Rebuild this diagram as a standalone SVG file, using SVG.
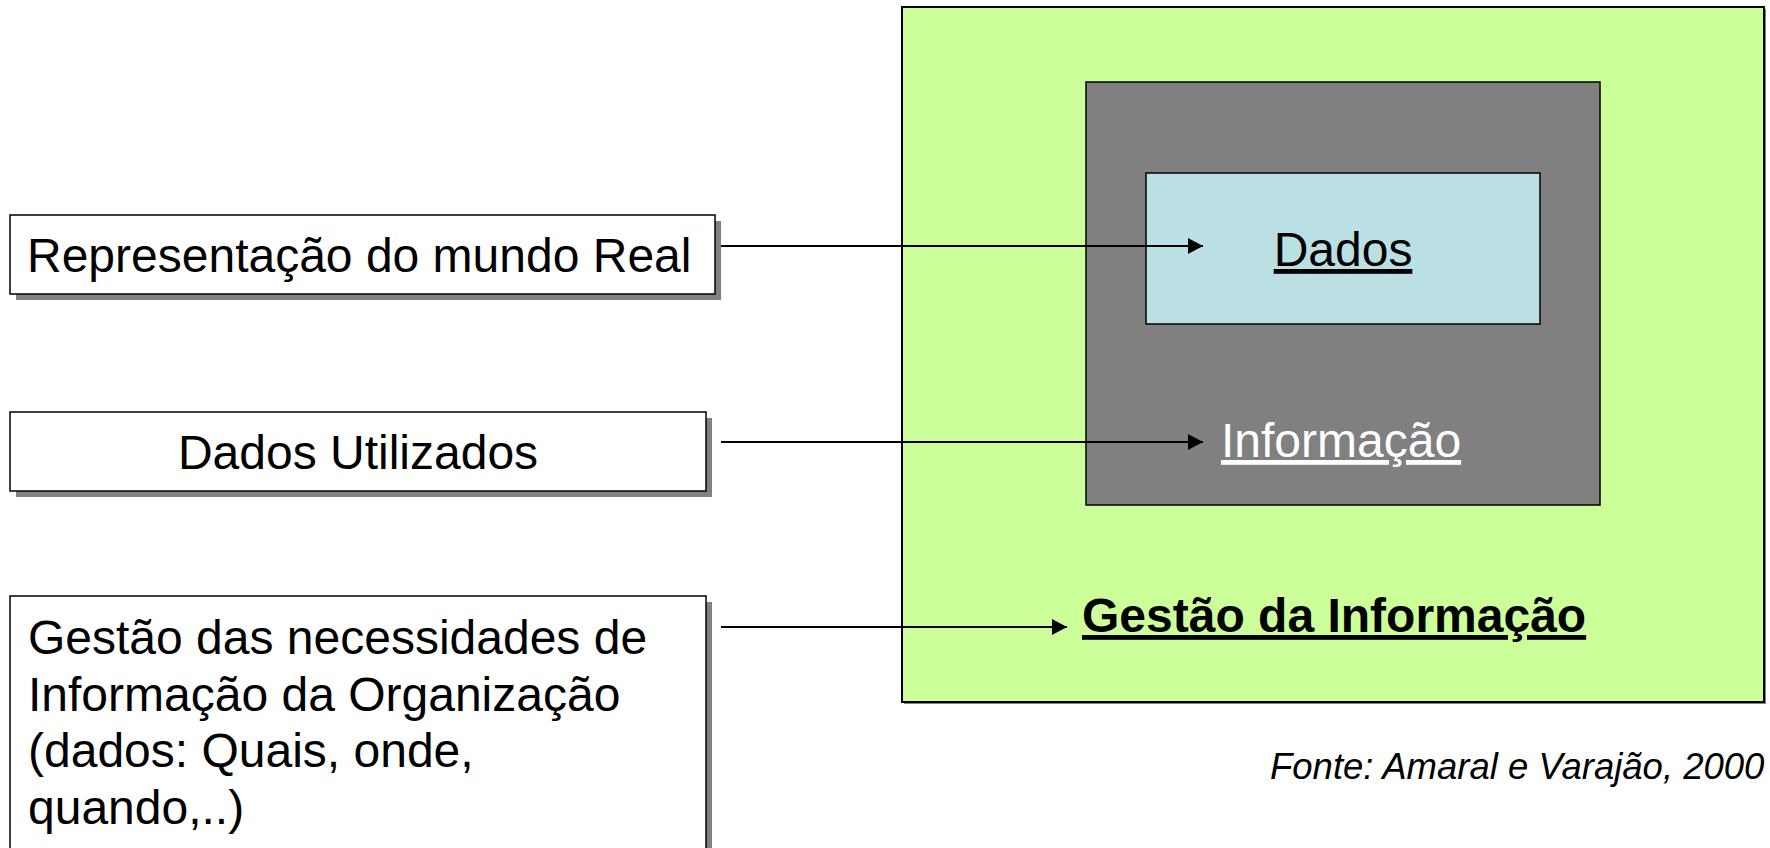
<svg xmlns="http://www.w3.org/2000/svg" width="1770" height="848" viewBox="0 0 1770 848">
<defs>
<style>
.t{font-family:"Liberation Sans",Arial,sans-serif;font-size:48px;fill:#000}
.box{fill:#fff;stroke:#000;stroke-width:1.5}
.sh{fill:#808080}
.conn{stroke:#000;stroke-width:2;fill:none;marker-end:url(#ah)}
</style>
<marker id="ah" markerUnits="userSpaceOnUse" markerWidth="16" markerHeight="16" refX="15" refY="8" orient="auto">
<path d="M0,0 L15,8 L0,16 z" fill="#000"/>
</marker>
</defs>
<rect width="1770" height="848" fill="#fff"/>
<g id="gestao-informacao">
<rect x="904" y="9" width="862" height="695" class="sh"/>
<rect x="902" y="7" width="862" height="695" fill="#ccff99" stroke="#000" stroke-width="2"/>
<text x="1082" y="632" class="t" font-weight="bold" text-decoration="underline">Gestão da Informação</text>
</g>
<g id="informacao">
<rect x="1086" y="82" width="514" height="423" fill="#808080" stroke="#000" stroke-width="1.5"/>
<text x="1221" y="457" class="t" style="fill:#fff" text-decoration="underline">Informação</text>
</g>
<g id="dados">
<rect x="1146" y="173" width="394" height="151" fill="#bbe0e3" stroke="#000" stroke-width="1.5"/>
<text x="1343" y="266" class="t" text-anchor="middle" text-decoration="underline">Dados</text>
</g>
<g id="representacao">
<rect x="16" y="221" width="705" height="79" class="sh"/>
<rect x="10" y="215" width="705" height="79" class="box"/>
<text x="27" y="272" class="t">Representação do mundo Real</text>
</g>
<g id="dados-utilizados">
<rect x="16" y="418" width="696" height="79" class="sh"/>
<rect x="10" y="412" width="696" height="79" class="box"/>
<text x="358" y="469" class="t" text-anchor="middle">Dados Utilizados</text>
</g>
<g id="gestao-necessidades">
<rect x="16" y="602" width="696" height="260" class="sh"/>
<rect x="10" y="596" width="696" height="260" class="box"/>
<text class="t">
<tspan x="28" y="654">Gestão das necessidades de</tspan>
<tspan x="28" y="710.5">Informação da Organização</tspan>
<tspan x="28" y="767">(dados: Quais, onde,</tspan>
<tspan x="28" y="823.5">quando,..)</tspan>
</text>
</g>
<g id="connectors">
<line x1="721" y1="246" x2="1203" y2="246" class="conn"/>
<line x1="721" y1="442" x2="1203" y2="442" class="conn"/>
<line x1="721" y1="627" x2="1067" y2="627" class="conn"/>
</g>
<text x="1270" y="779" class="t" font-style="italic" style="font-size:36.5px">Fonte: Amaral e Varajão, 2000</text>
</svg>
